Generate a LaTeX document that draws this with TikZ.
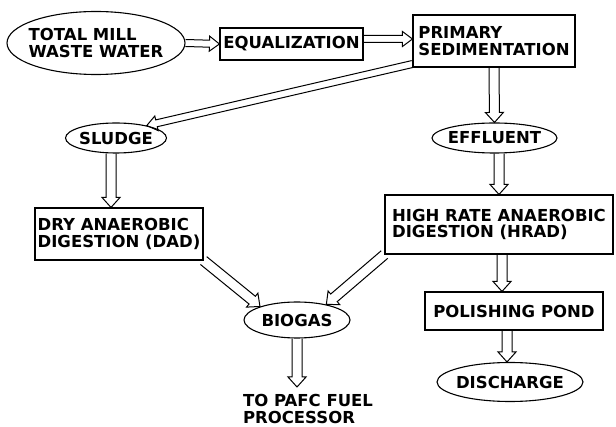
\documentclass[tikz,border=0pt]{standalone}
\usepackage{fontspec}
\setmainfont{DejaVu Sans}
\usetikzlibrary{shapes.geometric,calc}
\tikzset{
  every node/.style={font=\bfseries\fontsize{16.5}{16.5}\selectfont, text=black},
  boxnode/.style={draw, line width=1.1pt, rectangle, inner sep=2pt, align=left},
  ovalnode/.style={draw, line width=1.1pt, ellipse, inner ysep=0pt, inner xsep=-4pt, align=left},
  hollow/.style={line width=1pt, line join=miter, to path={
    let \p1=(\tikztostart), \p2=(\tikztotarget),
        \n1={atan2(\y2-\y1,\x2-\x1)}, \n2={veclen(\x2-\x1,\y2-\y1)} in
    {[shift={(\p1)}, rotate=\n1]
      (0,#1) -- ({\n2-10},#1) -- ({\n2-10},{#1+4}) -- (\n2,0)
      -- ({\n2-10},{-#1-4}) -- ({\n2-10},-#1) -- (0,-#1)}}},
  hollow/.default=5
}
\begin{document}
\begin{tikzpicture}[x=1pt,y=-1pt]
\useasboundingbox[fill=white] (0,0) rectangle (616,427);
% nodes
\node[ovalnode, minimum width=178pt, minimum height=63pt, inner xsep=-9pt] (tm) at (96,43) {TOTAL MILL\\WASTE WATER};
\node[boxnode, minimum width=143pt, minimum height=32pt] (eq) at (291.5,44) {EQUALIZATION};
\node[boxnode, minimum width=162pt, minimum height=52pt] (ps) at (494,41) {PRIMARY\\SEDIMENTATION};
\node[ovalnode, minimum width=101pt, minimum height=30pt] (sl) at (116,138) {SLUDGE};
\node[ovalnode, minimum width=125pt, minimum height=30pt] (ef) at (494.5,138) {EFFLUENT};
\node[boxnode, minimum width=168pt, minimum height=52pt] (dad) at (119,234) {DRY ANAEROBIC\\DIGESTION (DAD)};
\node[boxnode, minimum width=228pt, minimum height=59pt] (hrad) at (499,224.5) {HIGH RATE ANAEROBIC\\DIGESTION (HRAD)};
\node[ovalnode, minimum width=106pt, minimum height=36pt] (bg) at (297,320) {BIOGAS};
\node[boxnode, minimum width=178pt, minimum height=38pt] (pp) at (514,311) {POLISHING POND};
\node[ovalnode, minimum width=146pt, minimum height=39pt] (dis) at (510,382) {DISCHARGE};
\node[inner sep=0pt, align=left] (out) at (308,409) {TO PAFC FUEL\\PROCESSOR};
% connectors
\draw[hollow=3.5] (tm.east) to (eq.west);
\draw[hollow=3.5] (eq.east |- 0,39) to (ps.west |- 0,39);
\draw[hollow=3.5] (ps.west |- 0,64) to (sl.22);
\draw[hollow] (ps.south) to (ef.north);
\draw[hollow] (sl.south -| 111,0) to (dad.north -| 111,0);
\draw[hollow] (ef.south -| 499,0) to (hrad.north);
\draw[hollow] (dad.south east) to (bg.160);
\draw[hollow] (hrad.south west) to (bg.28);
\draw[hollow] (hrad.south -| 502,0) to (pp.north -| 502,0);
\draw[hollow] (pp.south -| 507,0) to (dis.north -| 507,0);
\draw[hollow] (bg.south) to (bg.south |- 0,387);
\end{tikzpicture}
\end{document}
